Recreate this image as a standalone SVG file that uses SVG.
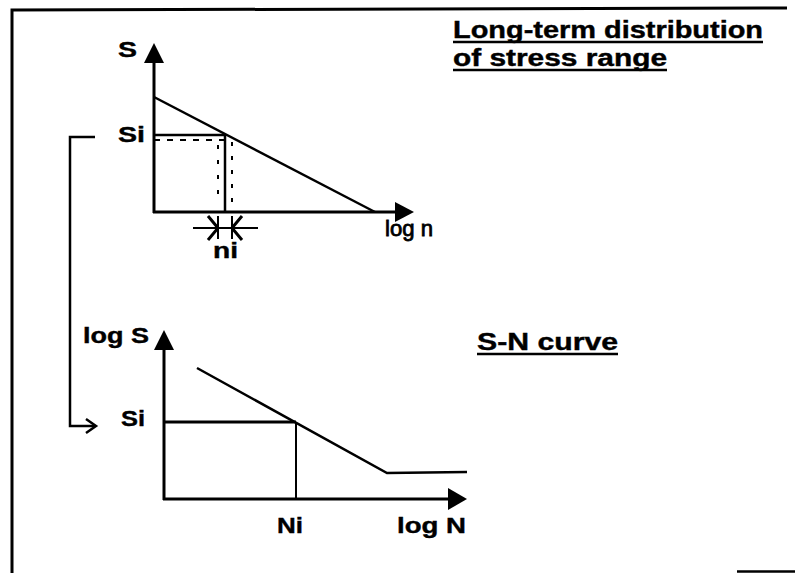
<svg xmlns="http://www.w3.org/2000/svg" width="795" height="573" viewBox="0 0 795 573">
  <style>
    .t { font-family: "Liberation Sans", Arial, sans-serif; font-weight: bold; fill: #000; stroke: #000; stroke-width: 0.4; }
    .tn { font-family: "Liberation Sans", Arial, sans-serif; font-weight: normal; fill: #000; stroke: #000; stroke-width: 0.8; }
    .ln { stroke: #000; fill: none; stroke-linecap: butt; }
    .head { fill: #000; stroke: none; }
  </style>
  <rect x="0" y="0" width="795" height="573" fill="#fff"/>

  <g id="frame">
    <path class="ln" d="M12,573 L12,10 L787,8" stroke-width="3"/>
    <path class="ln" d="M737,571.5 L795,571.5" stroke-width="2.5"/>
  </g>

  <g id="title-distribution">
    <text class="t" x="453" y="38" font-size="23" textLength="310" lengthAdjust="spacingAndGlyphs">Long-term distribution</text>
    <line class="ln" x1="453" y1="42" x2="763" y2="42" stroke-width="2.5"/>
    <text class="t" x="453" y="66" font-size="23" textLength="214" lengthAdjust="spacingAndGlyphs">of stress range</text>
    <line class="ln" x1="453" y1="70" x2="667" y2="70" stroke-width="2.5"/>
  </g>

  <g id="title-sn">
    <text class="t" x="477" y="350" font-size="23" textLength="141" lengthAdjust="spacingAndGlyphs">S-N curve</text>
    <line class="ln" x1="477" y1="354" x2="618" y2="354" stroke-width="2.5"/>
  </g>

  <g id="plot-distribution">
    <line class="ln" x1="154" y1="213" x2="154" y2="62" stroke-width="3"/>
    <polygon class="head" points="154,43 164,63 144,63"/>
    <line class="ln" x1="153" y1="212" x2="396" y2="212" stroke-width="3"/>
    <polygon class="head" points="414,212 395,202 395,222"/>
    <text class="t" x="118" y="57" font-size="22" textLength="19" lengthAdjust="spacingAndGlyphs">S</text>
    <text class="tn" x="385" y="236" font-size="22" textLength="48" lengthAdjust="spacingAndGlyphs">log n</text>
    <text class="t" x="118" y="142" font-size="22" textLength="27" lengthAdjust="spacingAndGlyphs">Si</text>
    <line class="ln" x1="154" y1="97" x2="375" y2="212" stroke-width="2.5"/>
    <line class="ln" x1="154" y1="135" x2="225" y2="135" stroke-width="2.5"/>
    <line class="ln" x1="154" y1="140" x2="225" y2="140" stroke-width="2" stroke-dasharray="6,7"/>
    <line class="ln" x1="225" y1="135" x2="225" y2="212" stroke-width="2.5"/>
    <line class="ln" x1="218" y1="145" x2="218" y2="205" stroke-width="2" stroke-dasharray="4,11"/>
    <line class="ln" x1="232" y1="142" x2="232" y2="212" stroke-width="2" stroke-dasharray="4,10"/>
    <g id="dim-ni">
      <line class="ln" x1="193" y1="228" x2="258" y2="228" stroke-width="2"/>
      <line class="ln" x1="218" y1="216" x2="218" y2="239" stroke-width="2"/>
      <line class="ln" x1="232" y1="216" x2="232" y2="239" stroke-width="2"/>
      <polyline class="ln" points="208,216 218,228 208,240" stroke-width="3"/>
      <polyline class="ln" points="242,216 232,228 242,240" stroke-width="3"/>
    </g>
    <text class="t" x="213" y="258" font-size="22" textLength="25" lengthAdjust="spacingAndGlyphs">ni</text>
  </g>

  <g id="plot-sn">
    <line class="ln" x1="164" y1="500" x2="164" y2="349" stroke-width="3"/>
    <polygon class="head" points="164,330 174,350 154,350"/>
    <line class="ln" x1="163" y1="499" x2="449" y2="499" stroke-width="3"/>
    <polygon class="head" points="467,499 448,488 448,510"/>
    <text class="t" x="83" y="343" font-size="22" textLength="66" lengthAdjust="spacingAndGlyphs">log S</text>
    <text class="t" x="121" y="426" font-size="22" textLength="24" lengthAdjust="spacingAndGlyphs">Si</text>
    <text class="t" x="277" y="533" font-size="22" textLength="26" lengthAdjust="spacingAndGlyphs">Ni</text>
    <text class="t" x="397" y="533" font-size="22" textLength="69" lengthAdjust="spacingAndGlyphs">log N</text>
    <polyline class="ln" points="197,368 387,473 467,472" stroke-width="2.5"/>
    <line class="ln" x1="164" y1="422" x2="296" y2="422" stroke-width="3"/>
    <line class="ln" x1="296" y1="422" x2="296" y2="499" stroke-width="2"/>
  </g>

  <g id="connectors">
    <polyline class="ln" points="95,137 70,137 70,426 95,426" stroke-width="2.5"/>
    <polyline class="ln" points="86,419 96,426 86,433" stroke-width="2.5"/>
  </g>
</svg>
